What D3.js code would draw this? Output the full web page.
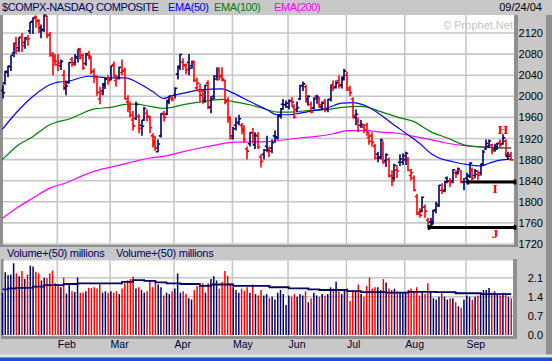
<!DOCTYPE html>
<html><head><meta charset="utf-8">
<script src="https://cdn.jsdelivr.net/npm/d3@7"></script>
<style>html,body{margin:0;padding:0;background:#c8c8c8;overflow:hidden}svg{display:block}</style>
</head><body>
<svg id="c" width="552" height="361"></svg>
<script>
// ---------------- DATA ----------------
const prevClose = 2003.4;
const opens = [
 2011,2025,2045,2056,2082,2098,2092,2112,2102,2108,2124,2142,2151,2144,2130,2127,2152,2117,2082,2075,
 2060,2058,2040,2016,2026,2070,2064,2072,2088,2078,2062,2078,2074,2048,2036,1995,2010,2020,2035,
 2032,2060,2030,2036,2045,2050,1990,1982,1955,1958,1962,1945,1955,1968,1960,1925,1914,1895,1925,1966,1966,1990,1996,
 2002,2042,2055,2065,2058,2064,2058,2065,2016,2010,2010,1992,2025,1980,2000,2038,2050,2040,2030,1992,1958,
 1925,1945,1950,1945,1935,1900,1910,1930,1908,1925,1885,1890,1905,1895,1902,1925,1920,1962,1985,1984,
 1980,1992,1980,1975,1995,2020,2018,1995,1985,1978,2000,1995,1980,1990,1975,1994,2022,2018,2030,2022,2032,
 2040,2012,1995,1960,1955,1945,1942,1945,1922,1925,1905,1890,1885,1910,1878,1880,1850,1845,1860,1875,1875,
 1880,1880,1850,1845,1810,1780,1782,1790,1765,1762,1762,1785,1792,1822,1822,1845,1840,1840,1855,1855,1858,1838,
 1845,1848,1860,1850,1852,1855,1872,1900,1905,1908,1900,1902,1912,1910,1915,1888,1890];
const highs = [
 2022,2048,2058,2078,2102,2113,2112,2120,2112,2116,2141,2150,2153,2146,2136,2154,2153,2122,2083,2080,
 2080,2070,2050,2030,2065,2075,2080,2090,2092,2081,2082,2086,2076,2053,2040,2018,2025,2035,2040,
 2058,2066,2040,2056,2070,2054,2002,1990,1972,1990,1966,1955,1980,1975,1963,1930,1925,1918,1968,1972,1993,2001,2002,
 2017,2058,2080,2072,2062,2080,2068,2068,2035,2024,2012,2022,2030,2000,2040,2055,2055,2055,2032,1998,1962,
 1942,1960,1965,1950,1945,1905,1932,1940,1932,1932,1890,1900,1925,1905,1918,1935,1965,1978,1995,1992,
 1994,1998,1985,1990,2022,2028,2022,2002,1990,1998,2003,1999,1990,1995,1995,2022,2030,2030,2040,2038,2052,
 2046,2020,1998,1975,1960,1955,1948,1950,1930,1932,1910,1895,1920,1915,1892,1884,1860,1872,1870,1890,1892,
 1895,1885,1862,1850,1815,1788,1810,1795,1770,1770,1785,1800,1832,1835,1840,1848,1845,1862,1860,1865,1860,1845,
 1855,1875,1865,1862,1860,1872,1898,1918,1918,1910,1910,1912,1918,1928,1918,1895,1895];
const lows = [
 1996,2022,2036,2048,2074,2080,2084,2084,2090,2096,2118,2118,2130,2120,2110,2122,2110,2075,2040,2058,
 2048,2050,2012,2002,2024,2056,2058,2064,2070,2050,2058,2070,2042,2025,2001,1985,2002,2014,2022,
 2030,2036,2018,2032,2040,1994,1970,1960,1935,1955,1930,1925,1953,1952,1930,1903,1897,1894,1922,1952,1964,1985,1990,
 1996,2032,2050,2050,2042,2040,2052,2027,2010,1990,1986,1988,1976,1968,1994,2030,2030,2028,1985,1950,1918,
 1918,1935,1945,1928,1912,1880,1905,1910,1900,1900,1865,1880,1895,1885,1892,1912,1918,1958,1975,1978,
 1975,1980,1958,1970,1993,2010,1988,1982,1968,1975,1986,1978,1974,1970,1970,1990,2010,2015,2015,2015,2030,
 2010,2000,1958,1945,1932,1940,1930,1925,1908,1905,1880,1875,1880,1872,1866,1846,1830,1840,1845,1868,1870,
 1870,1858,1840,1820,1775,1770,1780,1770,1750,1750,1758,1778,1790,1815,1818,1835,1828,1835,1845,1852,1835,1822,
 1835,1845,1840,1845,1842,1850,1870,1898,1902,1890,1895,1898,1902,1908,1885,1880,1878];
const closes = [
 2006.7,2047.4,2057.4,2077.7,2100.3,2086.9,2111.8,2096.4,2111.1,2109.1,2140.5,2148.0,2142.5,2123.9,2124.8,2153.8,2116.0,2077.4,2068.2,2066.2,
 2063.2,2066.2,2014.1,2019.6,2064.0,2060.6,2075.3,2089.7,2073.6,2053.6,2080.4,2076.5,2046.0,2037.9,2007.5,2005.4,2023.0,2032.6,2029.8,
 2057.8,2039.7,2033.4,2055.1,2047.6,1995.2,1978.0,1964.0,1943.9,1984.7,1939.2,1943.1,1976.8,1962.4,1940.5,1909.9,1901.8,1909.5,1967.2,1960.0,1992.6,2000.6,1994.2,
 2015.0,2057.2,2079.1,2059.9,2050.2,2052.9,2065.5,2030.1,2024.9,2002.2,1995.7,2020.4,1978.6,1995.6,2032.9,2049.8,2036.8,2032.5,1989.5,1958.8,1920.2,
 1938.7,1950.5,1957.3,1937.7,1918.0,1896.1,1931.4,1925.6,1926.0,1904.3,1876.6,1897.8,1898.2,1896.6,1912.1,1923.0,1964.7,1976.2,1984.5,1986.7,
 1990.8,1989.0,1960.3,1978.6,2020.6,2023.5,1990.6,1999.9,1970.0,1995.6,1998.2,1983.7,1986.7,1974.4,1994.2,2021.0,2015.6,2025.5,2019.8,2034.9,2047.8,
 2015.6,2006.7,1963.4,1966.1,1935.3,1946.3,1936.9,1931.7,1914.9,1912.7,1883.15,1883.17,1917.1,1874.4,1889.1,1849.1,1839.0,1869.1,1858.3,1881.1,1887.4,
 1892.1,1859.4,1855.1,1821.6,1776.9,1774.6,1808.7,1782.4,1752.5,1757.2,1782.8,1795.3,1831.4,1819.9,1838.0,1838.7,1836.9,1860.7,1852.9,1862.1,1836.5,1838.1,
 1850.4,1873.4,1844.5,1858.6,1850.6,1869.7,1894.3,1910.4,1915.4,1896.5,1904.1,1910.1,1908.1,1921.2,1885.7,1886.4,1879.5];
const volumes = [
 1.55,2.30,2.20,2.22,2.63,2.26,2.15,2.35,2.05,2.22,2.54,2.51,2.32,2.26,2.00,2.10,2.08,2.26,2.36,1.90,
 1.87,1.75,2.10,1.52,1.85,1.60,1.58,2.11,1.55,1.56,1.60,1.73,1.72,1.75,1.70,1.88,1.55,1.60,1.55,
 1.60,1.55,1.60,1.50,1.70,1.90,2.00,2.05,2.14,1.70,1.75,1.65,1.55,1.60,2.00,1.75,1.90,1.85,1.75,1.45,1.55,1.50,1.60,
 1.70,2.26,1.55,1.60,1.50,1.35,1.30,1.65,1.80,1.85,1.90,1.55,1.90,2.05,2.15,2.00,1.70,1.95,2.35,2.17,1.90,
 1.75,1.65,1.55,1.70,1.62,1.75,1.55,1.85,1.50,1.45,1.65,1.45,1.50,1.35,1.40,1.30,1.55,1.65,1.50,1.10,
 1.45,1.40,1.50,1.40,1.50,1.45,1.60,1.20,1.35,1.55,1.45,1.40,1.50,1.45,1.50,1.75,1.70,1.95,1.60,1.50,1.65,
 1.70,1.25,1.65,1.60,1.85,1.50,1.40,1.80,2.10,1.70,1.75,1.75,1.65,2.05,1.92,1.70,1.65,1.70,1.60,1.55,1.55,
 1.55,1.65,1.70,1.60,1.75,1.45,1.60,1.50,1.90,1.60,1.35,1.30,1.40,1.55,1.40,1.30,1.35,1.35,1.20,1.05,1.00,1.30,
 1.45,1.40,1.30,1.40,1.45,1.55,1.65,1.65,1.72,1.55,1.60,1.50,1.45,1.55,1.55,1.40,1.35];
const volAvgIdx = [0,2,5,11,15,22,27,43,47,51,55,59,64,71,75,83,96,103,110,114,124,129,138,146,156,163,172,183];
const volAvg    = [1.67,1.71,1.73,1.77,1.83,1.87,1.89,1.95,2.01,1.98,1.93,1.89,1.87,1.80,1.85,1.80,1.75,1.71,1.67,1.65,1.61,1.57,1.55,1.58,1.57,1.53,1.50,1.50];
const ema50Idx = [0,6,11,17,20,23,31,39,44,50,54,58,61,66,71,79,83,89,95,99,103,107,111,117,122,126,131,136,140,145,150,154,157,162,168,172,175,179,183];
const ema50    = [1938,1975,2000,2022,2027,2028,2038,2035,2035,2022,2009,1996,2001,2007,2012,2014,2006,1990,1975,1965,1965,1968,1972,1978,1987,1988,1981,1965,1949,1930,1911,1892,1883,1876,1870,1868,1873,1879,1881];
const ema100Idx = [0,5,11,17,20,24,28,33,39,45,48,53,58,61,66,71,79,83,89,95,99,103,110,117,122,129,136,143,148,154,160,166,172,178,183];
const ema100    = [1880,1905,1924,1946,1952,1957,1966,1976,1979,1985,1985,1981,1977,1979,1985,1989,1994,1990,1984,1975,1970,1970,1973,1975,1979,1981,1971,1959,1952,1933,1921,1908,1904,1902,1902];
const ema200Idx = [0,5,11,17,23,29,35,41,47,53,59,65,71,77,83,95,107,113,119,124,131,136,142,148,154,160,167,172,183];
const ema200    = [1769,1788,1807,1826,1836,1850,1861,1868,1876,1883,1887,1895,1902,1908,1913,1914,1921,1924,1929,1935,1935,1932,1930,1924,1918,1911,1906,1904,1902];
const monthLabels = ["Feb","Mar","Apr","May","Jun","Jul","Aug","Sep"];
const monthStartIdx = [20,39,62,83,103,124,145,167];
const priceTicks = [2120,2080,2040,2000,1960,1920,1880,1840,1800,1760,1720];
const volTicks = [0.0,0.7,1.4,2.1];
const supportLabels = ["I","J"];
const supportLevels = [1837.5,1751.5];
const supportStartIdx = [167,153];
const letterLabels = ["H","I","J"];
const letterIdx = [180,177.2,177.2];
const letterLevels = [1929,1817,1731];

// ---------------- DRAWING ----------------
const W=552,H=361;
const NAVY="#000066", RED="#ff0000";
const svg=d3.select("#c");
const n=closes.length;
const x=d3.scaleLinear().domain([0,n-1]).range([2.5,511.24]);
const yP=d3.scaleLinear().domain([1720,2120]).range([244,33]);
const yV=d3.scaleLinear().domain([0,2.1]).range([335,277.7]);
const FONT="'Liberation Sans', Arial, sans-serif";

svg.append("rect").attr("width",W).attr("height",H).attr("fill","#c8c8c8");
// dark frame strips
const dark="#8f8f8f";
[[0,15,3,232],[514,15,4,232],[0,244,518,3],[1,259,3,80],[513,259,4,80],[1,336,516,3],[546,15,6,340]]
 .forEach(r=>svg.append("rect").attr("x",r[0]).attr("y",r[1]).attr("width",r[2]).attr("height",r[3]).attr("fill",dark));
// bottom window strip
svg.append("rect").attr("x",0).attr("y",354.5).attr("width",W).attr("height",3).attr("fill","#e4e4ea");
svg.append("rect").attr("x",0).attr("y",357.5).attr("width",W).attr("height",4).attr("fill","#1f4fd4");
// plot areas
svg.append("rect").attr("x",3).attr("y",15).attr("width",511).attr("height",229.5).attr("fill","#fff");
svg.append("rect").attr("x",3.5).attr("y",260.5).attr("width",509.5).attr("height",75.5).attr("fill","#fff");

const GRID="#c6c6c6";
function styleGrid(g){g.select(".domain").remove();g.selectAll("line").attr("stroke",GRID).attr("stroke-width",1.6);g.selectAll("text").remove();}
// top grid
svg.append("g").attr("transform","translate(3,0)")
 .call(d3.axisLeft(yP).tickValues(priceTicks).tickSize(-511).offset(0)).call(styleGrid);
svg.append("g").attr("transform","translate(-0.8,244.5)")
 .call(d3.axisBottom(x).tickValues(monthStartIdx).tickSize(-229.5).offset(0)).call(styleGrid);
// volume grid
svg.append("g").attr("transform","translate(3.5,0)")
 .call(d3.axisLeft(yV).tickValues(volTicks.filter(v=>v>0)).tickSize(-509.5).offset(0)).call(styleGrid);
svg.append("g").attr("transform","translate(-0.8,336)")
 .call(d3.axisBottom(x).tickValues(monthStartIdx).tickSize(-75.5).offset(0)).call(styleGrid);

// watermark
svg.append("text").attr("x",513).attr("y",29).attr("text-anchor","end")
 .attr("font-family",FONT).attr("font-size",11).attr("fill","#c2c2c2").text("\u00A9 Prophet.Net");

// EMA lines
const emaLine=d3.line().x(d=>x(d[0])).y(d=>yP(d[1])).curve(d3.curveMonotoneX);
[[ema200Idx,ema200,"#ff00ff"],[ema100Idx,ema100,"#008000"],[ema50Idx,ema50,"#0000ff"]].forEach(([ix,vals,col])=>{
  svg.append("path").attr("d",emaLine(ix.map((v,k)=>[v,vals[k]]))).attr("fill","none").attr("stroke",col).attr("stroke-width",1.2);
});

// price bars
const gb=svg.append("g").attr("fill","none");
const upDown=closes.map((c,i)=>c>=(i?closes[i-1]:prevClose));
closes.forEach((c,i)=>{
  const xi=Math.round(x(i));
  gb.append("path").attr("d",`M${xi},${yP(highs[i])}V${yP(lows[i])}M${xi-2.2},${yP(opens[i])}H${xi}M${xi},${yP(c)}H${xi+2.2}`)
   .attr("stroke",upDown[i]?NAVY:RED).attr("stroke-width",1.6);
});

// support lines
supportLevels.forEach((lv,k)=>{
  const x0=x(supportStartIdx[k]), x1=x(n-1)+5, yy=yP(lv);
  svg.append("line").attr("x1",x0).attr("x2",x1).attr("y1",yy).attr("y2",yy).attr("stroke","#000").attr("stroke-width",3);
  svg.append("rect").attr("x",x0).attr("y",yy-2.5).attr("width",2.5).attr("height",5).attr("fill","#000");
  svg.append("rect").attr("x",x1-2.5).attr("y",yy-2.5).attr("width",2.5).attr("height",5).attr("fill","#000");
});
letterLabels.forEach((t,k)=>{
  svg.append("text").attr("x",x(letterIdx[k])).attr("y",yP(letterLevels[k])).attr("text-anchor","middle")
   .attr("font-family","'Liberation Serif','Times New Roman',serif").attr("font-weight","bold").attr("font-size",13.5)
   .attr("fill",RED).text(t);
});

// volume bars
const gv=svg.append("g");
volumes.forEach((v,i)=>{
  gv.append("line").attr("x1",x(i)).attr("x2",x(i)).attr("y1",yV(0)).attr("y2",yV(v))
   .attr("stroke",upDown[i]?NAVY:RED).attr("stroke-width",1.5);
});
const avgLine=d3.line().x(d=>x(d[0])).y(d=>yV(d[1])).curve(d3.curveStepAfter);
svg.append("path").attr("d",avgLine(volAvgIdx.map((v,k)=>[v,volAvg[k]]))).attr("fill","none").attr("stroke",NAVY).attr("stroke-width",1.8);

// axes labels
function styleLabels(g,color){g.select(".domain").remove();g.selectAll("line").remove();g.selectAll("text").attr("font-family",FONT).attr("font-size",11).attr("fill",color);}
svg.append("g").attr("transform","translate(543,0)")
 .call(d3.axisLeft(yP).tickValues(priceTicks).tickSize(0).tickPadding(0).tickFormat(d3.format("d"))).call(g=>styleLabels(g,"#000"));
svg.append("g").attr("transform","translate(543,0)")
 .call(d3.axisLeft(yV).tickValues(volTicks).tickSize(0).tickPadding(0).tickFormat(d3.format(".1f"))).call(g=>styleLabels(g,"#000"));
svg.append("g").attr("transform","translate(-0.8,341)")
 .call(d3.axisBottom(x).tickValues(monthStartIdx).tickSize(0).tickPadding(0).tickFormat((d,k)=>monthLabels[k]))
 .call(g=>{styleLabels(g,"#000033");g.selectAll("text").attr("text-anchor","start").attr("font-size",10.5).attr("dy","0.71em");});

// titles
function t(xx,yy,txt,col,anchor,ls){svg.append("text").attr("x",xx).attr("y",yy).attr("text-anchor",anchor||"start")
 .attr("font-family",FONT).attr("font-size",11).attr("letter-spacing",ls||0).attr("fill",col).text(txt);}
t(2,11,"$COMPX-NASDAQ COMPOSITE","#000066","start",-0.4);
t(168,11,"EMA(50)","#0000ff","start",-0.4);
t(214,11,"EMA(100)","#008000","start",-0.4);
t(274,11,"EMA(200)","#ff00ff","start",-0.4);
t(542,11,"09/24/04","#000","end",0);
t(7,256.5,"Volume+(50) millions","#000066","start",-0.25);
t(116,256.5,"Volume+(50) millions","#000066","start",-0.25);
</script>
</body></html>
